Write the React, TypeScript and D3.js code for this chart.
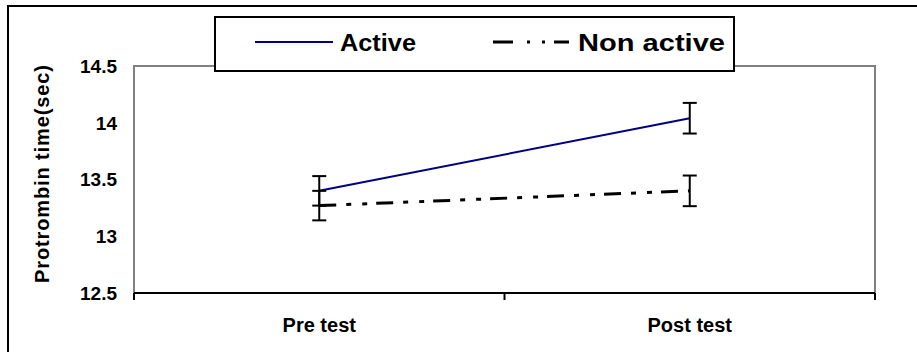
import React from 'react'
import * as d3 from 'd3'

const categories = ['Pre test', 'Post test']
const activeValues = [13.4, 14.04]
const activeErrors = [0.13, 0.135]
const nonActiveValues = [13.27, 13.4]
const nonActiveErrors = [0.13, 0.135]
const yTicks = [12.5, 13, 13.5, 14, 14.5]

const font = '"Liberation Sans", Arial, Helvetica, sans-serif'

const App = () => {
  const left = 134
  const right = 875
  const top = 66
  const bottom = 293

  const x = d3.scaleBand().domain(categories).range([left, right])
  const y = d3.scaleLinear().domain([12.5, 14.5]).range([bottom, top])
  const cx = (c) => x(c) + x.bandwidth() / 2

  const line = d3.line().x((d) => d[0]).y((d) => d[1])

  const series = [
    {name: 'Active', values: activeValues, errors: activeErrors, color: '#000080', width: 2, dash: null},
    {name: 'Non active', values: nonActiveValues, errors: nonActiveErrors, color: '#000000', width: 3, dash: '17,10,5,11,5,9'},
  ]

  const boundaries = [left, ...categories.slice(1).map((c) => x(c)), right]

  return (
    <svg width="917" height="352" style={{position: 'absolute', left: 0, top: 0}} fontFamily={font}>
      <rect x="0" y="0" width="917" height="352" fill="#fff" />
      {/* outer frame */}
      <rect x="8" y="6" width="940" height="400" fill="none" stroke="#000" strokeWidth="2" />

      {/* plot frame */}
      <path d={`M${left},${bottom}V${top}H${right}V${bottom}`} fill="none" stroke="#808080" strokeWidth="2" />
      <line x1={left} x2={right} y1={bottom} y2={bottom} stroke="#000" strokeWidth="2" />
      {boundaries.map((b, i) => (
        <line key={i} x1={b} x2={b} y1={bottom} y2={bottom + 7} stroke="#000" strokeWidth="2" />
      ))}

      {yTicks.map((t) => (
        <text key={t} x={117} y={y(t)} dy="0.36em" textAnchor="end" fontSize="19" fontWeight="bold">{t}</text>
      ))}
      {categories.map((c) => (
        <text key={c} x={cx(c)} y={332} textAnchor="middle" fontSize="20" fontWeight="bold">{c}</text>
      ))}
      <text
        transform={`translate(49,${(65 + 283) / 2}) rotate(-90)`}
        textAnchor="middle"
        fontSize="20"
        fontWeight="bold"
        textLength="218"
        lengthAdjust="spacing"
      >Protrombin time(sec)</text>

      {series.map((s) => (
        <g key={s.name}>
          <path
            d={line(categories.map((c, i) => [cx(c), y(s.values[i])]))}
            fill="none"
            stroke={s.color}
            strokeWidth={s.width}
            strokeDasharray={s.dash || undefined}
          />
          {categories.map((c, i) => {
            const hi = y(s.values[i] + s.errors[i])
            const lo = y(s.values[i] - s.errors[i])
            const px = cx(c)
            return (
              <g key={c} stroke="#000" strokeWidth="2">
                <line x1={px} x2={px} y1={hi} y2={lo} />
                <line x1={px - 7} x2={px + 7} y1={hi} y2={hi} />
                <line x1={px - 7} x2={px + 7} y1={lo} y2={lo} />
              </g>
            )
          })}
        </g>
      ))}

      {/* legend */}
      <rect x="215" y="17" width="519" height="54" fill="#fff" stroke="#000" strokeWidth="2" />
      <line x1="255" x2="333" y1="42" y2="42" stroke="#000080" strokeWidth="2" />
      <text x="340" y="51" fontSize="24" fontWeight="bold" textLength="76" lengthAdjust="spacingAndGlyphs">Active</text>
      <line x1="493" x2="569" y1="42" y2="42" stroke="#000" strokeWidth="3" strokeDasharray="20,14,3,12,3,9,16" />
      <text x="578" y="51" fontSize="24" fontWeight="bold" textLength="147" lengthAdjust="spacingAndGlyphs">Non active</text>
    </svg>
  )
}

export default App
